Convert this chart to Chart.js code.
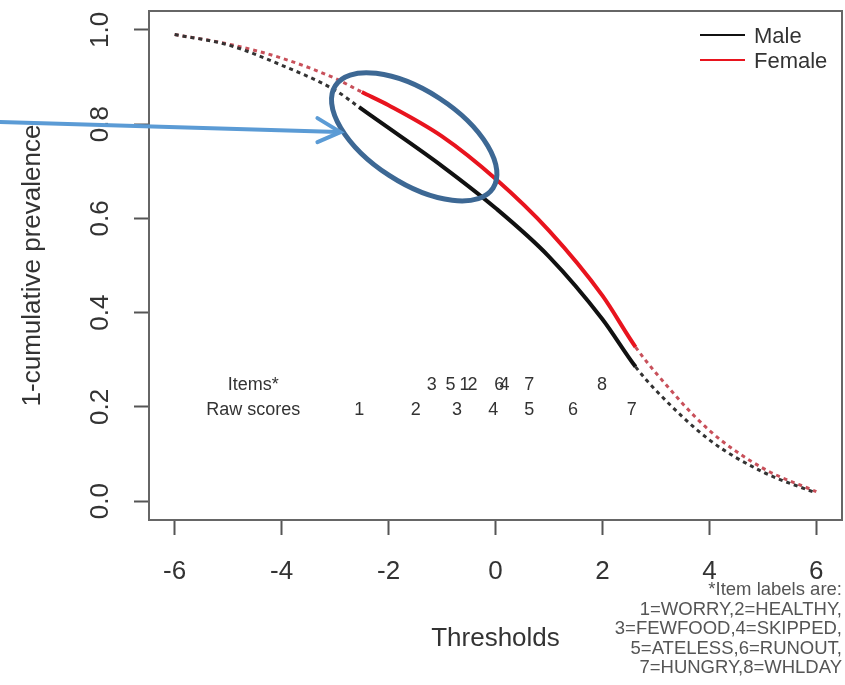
<!DOCTYPE html>
<html>
<head>
    <title>1-cumulative prevalence by thresholds</title>
    <script src="https://cdn.jsdelivr.net/npm/chart.js"></script>
</head>
<body style="margin:0; background-color:white;">
    <canvas id="prevChart" width="845" height="685"></canvas>

    <script>
        // curves
        const maleX = [-6, -5, -4, -3, -2.55, -2, -1, 0, 1, 2, 2.62, 3, 4, 5, 6];
        const maleY = [0.99, 0.968, 0.925, 0.872, 0.836, 0.792, 0.711, 0.622, 0.519, 0.386, 0.285, 0.235, 0.13, 0.062, 0.017];
        const femaleX = [-6, -5, -4, -3, -2.5, -2, -1, 0, 1, 2, 2.62, 3, 4, 5, 6];
        const femaleY = [0.99, 0.97, 0.94, 0.897, 0.868, 0.84, 0.774, 0.684, 0.574, 0.436, 0.327, 0.272, 0.15, 0.07, 0.02];
        // observed range (solid part) of each curve
        const maleSolid = [-2.55, 2.62];
        const femaleSolid = [-2.5, 2.62];

        const xTicks = [-6, -4, -2, 0, 2, 4, 6];
        const yTicks = [0, 0.2, 0.4, 0.6, 0.8, 1.0];

        const itemLabels = ["3", "5", "1", "2", "6", "4", "7", "8"];
        const itemPos = [-1.19, -0.84, -0.58, -0.43, 0.07, 0.17, 0.63, 1.99];
        const rawLabels = ["1", "2", "3", "4", "5", "6", "7"];
        const rawPos = [-2.55, -1.49, -0.72, -0.04, 0.63, 1.45, 2.55];

        const footnote = ["*Item labels are:", "1=WORRY,2=HEALTHY,", "3=FEWFOOD,4=SKIPPED,",
                          "5=ATELESS,6=RUNOUT,", "7=HUNGRY,8=WHLDAY"];

        const FONT = "'Liberation Sans', Arial, sans-serif";

        function pts(xs, ys) {
            return xs.map((x, i) => ({ x: x, y: ys[i] }));
        }

        function dashed(range) {
            return ctx => (ctx.p1.parsed.x <= range[0] || ctx.p0.parsed.x >= range[1]);
        }

        const extras = {
            id: "extras",
            afterDraw(chart) {
                const ctx = chart.ctx;
                const a = chart.chartArea;
                const xs = chart.scales.x, ys = chart.scales.y;
                ctx.save();

                // box round the plot
                ctx.strokeStyle = "#666";
                ctx.lineWidth = 2;
                ctx.strokeRect(a.left, a.top, a.right - a.left, a.bottom - a.top);

                // y tick labels, parallel to the axis
                ctx.fillStyle = "#333";
                ctx.font = "26px " + FONT;
                ctx.textAlign = "center";
                ctx.textBaseline = "middle";
                ys.ticks.forEach(t => {
                    ctx.save();
                    ctx.translate(101, ys.getPixelForValue(t.value));
                    ctx.rotate(-Math.PI / 2);
                    ctx.fillText(t.value.toFixed(1), 0, 0);
                    ctx.restore();
                });

                // legend
                ctx.font = "22px " + FONT;
                ctx.textAlign = "left";
                chart.data.datasets.forEach((ds, i) => {
                    const y = 35 + i * 25;
                    ctx.strokeStyle = ds.borderColor;
                    ctx.lineWidth = 2;
                    ctx.beginPath();
                    ctx.moveTo(700, y);
                    ctx.lineTo(745, y);
                    ctx.stroke();
                    ctx.fillStyle = "#333";
                    ctx.fillText(ds.label, 754, y + 2);
                });

                // items / raw scores rows
                ctx.font = "18px " + FONT;
                ctx.fillStyle = "#333";
                ctx.textAlign = "center";
                const yItems = ys.getPixelForValue(0.246);
                const yRaw = ys.getPixelForValue(0.193);
                ctx.fillText("Items*", xs.getPixelForValue(-4.53), yItems);
                ctx.fillText("Raw scores", xs.getPixelForValue(-4.53), yRaw);
                itemLabels.forEach((l, i) => ctx.fillText(l, xs.getPixelForValue(itemPos[i]), yItems));
                rawLabels.forEach((l, i) => ctx.fillText(l, xs.getPixelForValue(rawPos[i]), yRaw));

                // footnote
                ctx.font = "18.5px " + FONT;
                ctx.fillStyle = "#555";
                ctx.textAlign = "right";
                footnote.forEach((l, i) => ctx.fillText(l, 842, 590 + i * 19.5));

                // highlight ellipse and arrow
                const cx = xs.getPixelForValue(-1.52), cy = ys.getPixelForValue(0.773);
                ctx.strokeStyle = "#3d6894";
                ctx.lineWidth = 5;
                ctx.beginPath();
                ctx.ellipse(cx, cy, 94, 46, 33 * Math.PI / 180, 0, 2 * Math.PI);
                ctx.stroke();

                const tx = xs.getPixelForValue(-2.9), ty = ys.getPixelForValue(0.783);
                ctx.strokeStyle = "#5b9bd5";
                ctx.lineWidth = 4;
                ctx.lineCap = "round";
                ctx.beginPath();
                ctx.moveTo(0, ty - 10);
                ctx.lineTo(tx - 2, ty);
                ctx.stroke();
                ctx.beginPath();
                ctx.moveTo(tx - 23, ty - 14);
                ctx.lineTo(tx, ty);
                ctx.lineTo(tx - 23, ty + 10);
                ctx.stroke();

                ctx.restore();
            }
        };

        new Chart(document.getElementById("prevChart"), {
            type: "line",
            data: {
                datasets: [
                    {
                        label: "Male",
                        data: pts(maleX, maleY),
                        borderColor: "#111",
                        borderWidth: 4,
                        pointRadius: 0,
                        cubicInterpolationMode: "monotone",
                        order: 0,
                        segment: {
                            borderDash: ctx => dashed(maleSolid)(ctx) ? [4, 4] : undefined,
                            borderWidth: ctx => dashed(maleSolid)(ctx) ? 3 : 4,
                            borderColor: ctx => dashed(maleSolid)(ctx) ? "#333" : "#111"
                        }
                    },
                    {
                        label: "Female",
                        data: pts(femaleX, femaleY),
                        borderColor: "#e8141e",
                        borderWidth: 4,
                        pointRadius: 0,
                        cubicInterpolationMode: "monotone",
                        order: 1,
                        segment: {
                            borderDash: ctx => dashed(femaleSolid)(ctx) ? [4, 4] : undefined,
                            borderWidth: ctx => dashed(femaleSolid)(ctx) ? 3 : 4,
                            borderColor: ctx => dashed(femaleSolid)(ctx) ? "#c8505a" : "#e8141e"
                        }
                    }
                ]
            },
            options: {
                responsive: false,
                animation: false,
                devicePixelRatio: 1,
                layout: { padding: { top: 11, right: 3 } },
                plugins: {
                    legend: { display: false },
                    tooltip: { enabled: false }
                },
                scales: {
                    x: {
                        type: "linear",
                        min: -6.48,
                        max: 6.48,
                        afterBuildTicks: axis => { axis.ticks = xTicks.map(v => ({ value: v })); },
                        afterFit: axis => { axis.height = 165; },
                        grid: { drawOnChartArea: false, drawTicks: true, tickLength: 15, tickColor: "#555", tickWidth: 2 },
                        border: { display: false },
                        ticks: { color: "#333", font: { size: 26, family: FONT }, padding: 21, maxRotation: 0 },
                        title: { display: true, text: "Thresholds", color: "#333", font: { size: 26, family: FONT }, padding: { top: 0, bottom: 31 } }
                    },
                    y: {
                        type: "linear",
                        min: -0.04,
                        max: 1.04,
                        afterBuildTicks: axis => { axis.ticks = yTicks.map(v => ({ value: v })); },
                        afterFit: axis => { axis.width = 149; },
                        grid: { drawOnChartArea: false, drawTicks: true, tickLength: 15, tickColor: "#555", tickWidth: 2 },
                        border: { display: false },
                        ticks: { display: false },
                        title: { display: true, text: "1-cumulative prevalence", color: "#333", font: { size: 26, family: FONT }, padding: { top: 17, bottom: 0 } }
                    }
                }
            },
            plugins: [extras]
        });
    </script>
</body>
</html>
